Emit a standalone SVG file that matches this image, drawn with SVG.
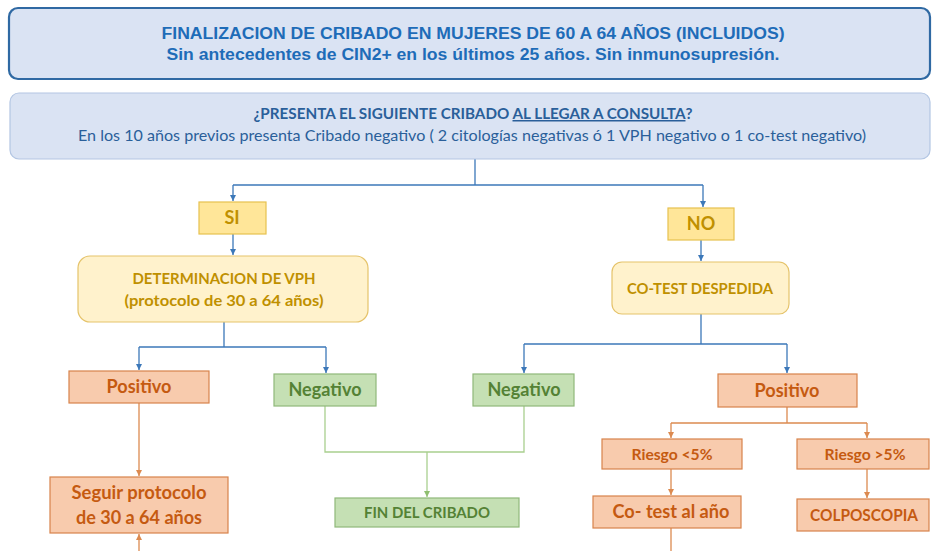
<svg xmlns="http://www.w3.org/2000/svg" width="933" height="551" viewBox="0 0 933 551">
<style>
.t1{font-family:"Liberation Sans",Arial,sans-serif;font-weight:bold;font-size:16px;fill:#1e6cb8;text-anchor:middle}
.q{font-family:Lato,"Open Sans",sans-serif;font-size:15px;fill:#2a5f9a;text-anchor:middle}
.n{font-family:Lato,"Open Sans",sans-serif;font-weight:bold;text-anchor:middle}
.y{fill:#bf9000}
.o{fill:#c55a11}
.g{fill:#548235}
.by{fill:#ffe699;stroke:#e7c14f;stroke-width:1.2}
.bly{fill:#fff2cc;stroke:#e5c36a;stroke-width:1.2}
.bo{fill:#f8cbad;stroke:#d8834b;stroke-width:1.2}
.bg{fill:#c5e0b4;stroke:#8fb87a;stroke-width:1.2}
.cb{fill:none;stroke:#3c78b9;stroke-width:1.3}
.co{fill:none;stroke:#dc8a50;stroke-width:1.3}
.cg{fill:none;stroke:#a9cf8f;stroke-width:1.3}
</style>
<defs>
<marker id="ab" markerWidth="7" markerHeight="6" refX="6" refY="3" orient="auto" markerUnits="userSpaceOnUse"><path d="M0,0 L6,3 L0,6 z" fill="#3c78b9"/></marker>
<marker id="ao" markerWidth="7" markerHeight="6" refX="6" refY="3" orient="auto" markerUnits="userSpaceOnUse"><path d="M0,0 L6,3 L0,6 z" fill="#dc8a50"/></marker>
<marker id="ag" markerWidth="7" markerHeight="6" refX="6" refY="3" orient="auto" markerUnits="userSpaceOnUse"><path d="M0,0 L6,3 L0,6 z" fill="#8fbf70"/></marker>
</defs>
<rect width="933" height="551" fill="#ffffff"/>

<g id="connectors">
<path class="cb" d="M475 159 V185 M233 185 H703"/>
<path class="cb" d="M233 185 V201" marker-end="url(#ab)"/>
<path class="cb" d="M703 185 V207" marker-end="url(#ab)"/>
<path class="cb" d="M233 234 V255" marker-end="url(#ab)"/>
<path class="cb" d="M701 240 V261" marker-end="url(#ab)"/>
<path class="cb" d="M224 322 V347 M139 347 H326"/>
<path class="cb" d="M139 347 V370" marker-end="url(#ab)"/>
<path class="cb" d="M326 347 V373" marker-end="url(#ab)"/>
<path class="cb" d="M701 314 V344 M524 344 H787"/>
<path class="cb" d="M524 344 V373" marker-end="url(#ab)"/>
<path class="cb" d="M787 344 V373" marker-end="url(#ab)"/>
<path class="co" d="M139 403 V476" marker-end="url(#ao)"/>
<path class="co" d="M139 551 V534" marker-end="url(#ao)"/>
<path class="co" d="M787 407 V423 M671 423 H867"/>
<path class="co" d="M671 423 V438" marker-end="url(#ao)"/>
<path class="co" d="M867 423 V438" marker-end="url(#ao)"/>
<path class="co" d="M671 469 V495" marker-end="url(#ao)"/>
<path class="co" d="M867 469 V498" marker-end="url(#ao)"/>
<path class="co" d="M671 528 V551"/>
<path class="cg" d="M325 406 V452 H524 V406"/>
<path class="cg" d="M427 452 V497" marker-end="url(#ag)"/>
</g>

<g id="title">
<rect x="9" y="8" width="921" height="71" rx="9" fill="#dae3f3" stroke="#2f69a3" stroke-width="2.2"/>
<text class="t1" x="473" y="39" textLength="623" lengthAdjust="spacingAndGlyphs">FINALIZACION DE CRIBADO EN MUJERES DE 60 A 64 AÑOS (INCLUIDOS)</text>
<text class="t1" x="473" y="60" textLength="613" lengthAdjust="spacingAndGlyphs">Sin antecedentes de CIN2+ en los últimos 25 años. Sin inmunosupresión.</text>
</g>

<g id="question">
<rect x="10" y="93" width="920" height="66" rx="9" fill="#dae3f3" stroke="#b3c6e3" stroke-width="1.2"/>
<text class="q" x="473" y="119" font-weight="bold" textLength="439" lengthAdjust="spacingAndGlyphs">¿PRESENTA EL SIGUIENTE CRIBADO <tspan text-decoration="underline">AL LLEGAR A CONSULTA</tspan>?</text>
<text class="q" x="472" y="141" textLength="788" lengthAdjust="spacingAndGlyphs">En los 10 años previos presenta Cribado negativo ( 2 citologías negativas ó 1 VPH negativo o 1 co-test negativo)</text>
</g>

<g id="si">
<rect class="by" x="199" y="202" width="67" height="32"/>
<text class="n y" x="232" y="224" font-size="18">SI</text>
</g>
<g id="no">
<rect class="by" x="668" y="208" width="66" height="32"/>
<text class="n y" x="701" y="230" font-size="18">NO</text>
</g>

<g id="vph">
<rect class="bly" x="78" y="256" width="290" height="66" rx="12"/>
<text class="n y" x="224" y="284" font-size="15" textLength="183" lengthAdjust="spacingAndGlyphs">DETERMINACION DE VPH</text>
<text class="n y" x="224" y="306" font-size="15" textLength="199" lengthAdjust="spacingAndGlyphs">(protocolo de 30 a 64 años)</text>
</g>

<g id="cotest">
<rect class="bly" x="612" y="262" width="177" height="52" rx="10"/>
<text class="n y" x="700" y="294" font-size="15" textLength="146" lengthAdjust="spacingAndGlyphs">CO-TEST DESPEDIDA</text>
</g>

<g id="positivo-izq">
<rect class="bo" x="69" y="371" width="140" height="32"/>
<text class="n o" x="139" y="393" font-size="18" textLength="65" lengthAdjust="spacingAndGlyphs">Positivo</text>
</g>
<g id="negativo-izq">
<rect class="bg" x="274" y="374" width="102" height="32"/>
<text class="n g" x="325" y="396" font-size="18" textLength="73" lengthAdjust="spacingAndGlyphs">Negativo</text>
</g>
<g id="negativo-der">
<rect class="bg" x="473" y="374" width="101" height="32"/>
<text class="n g" x="524" y="396" font-size="18" textLength="73" lengthAdjust="spacingAndGlyphs">Negativo</text>
</g>
<g id="positivo-der">
<rect class="bo" x="718" y="374" width="139" height="33"/>
<text class="n o" x="787" y="397" font-size="18" textLength="65" lengthAdjust="spacingAndGlyphs">Positivo</text>
</g>

<g id="seguir">
<rect class="bo" x="50" y="477" width="178" height="56"/>
<text class="n o" x="139" y="499" font-size="18" textLength="135" lengthAdjust="spacingAndGlyphs">Seguir protocolo</text>
<text class="n o" x="139" y="524" font-size="18" textLength="126" lengthAdjust="spacingAndGlyphs">de 30 a 64 años</text>
</g>

<g id="fin">
<rect class="bg" x="335" y="498" width="184" height="29"/>
<text class="n g" x="427" y="518" font-size="15" textLength="126" lengthAdjust="spacingAndGlyphs">FIN DEL CRIBADO</text>
</g>

<g id="riesgo-menor">
<rect class="bo" x="602" y="439" width="140" height="30"/>
<text class="n o" x="672" y="460" font-size="15" textLength="81" lengthAdjust="spacingAndGlyphs">Riesgo &lt;5%</text>
</g>
<g id="riesgo-mayor">
<rect class="bo" x="797" y="439" width="132" height="30"/>
<text class="n o" x="865" y="460" font-size="15" textLength="81" lengthAdjust="spacingAndGlyphs">Riesgo &gt;5%</text>
</g>

<g id="cotest-anio">
<rect class="bo" x="593" y="496" width="148" height="32"/>
<text class="n o" x="671" y="518" font-size="18" textLength="117" lengthAdjust="spacingAndGlyphs">Co- test al año</text>
</g>
<g id="colposcopia">
<rect class="bo" x="797" y="499" width="132" height="32"/>
<text class="n o" x="864" y="521" font-size="17" textLength="108" lengthAdjust="spacingAndGlyphs">COLPOSCOPIA</text>
</g>
</svg>
